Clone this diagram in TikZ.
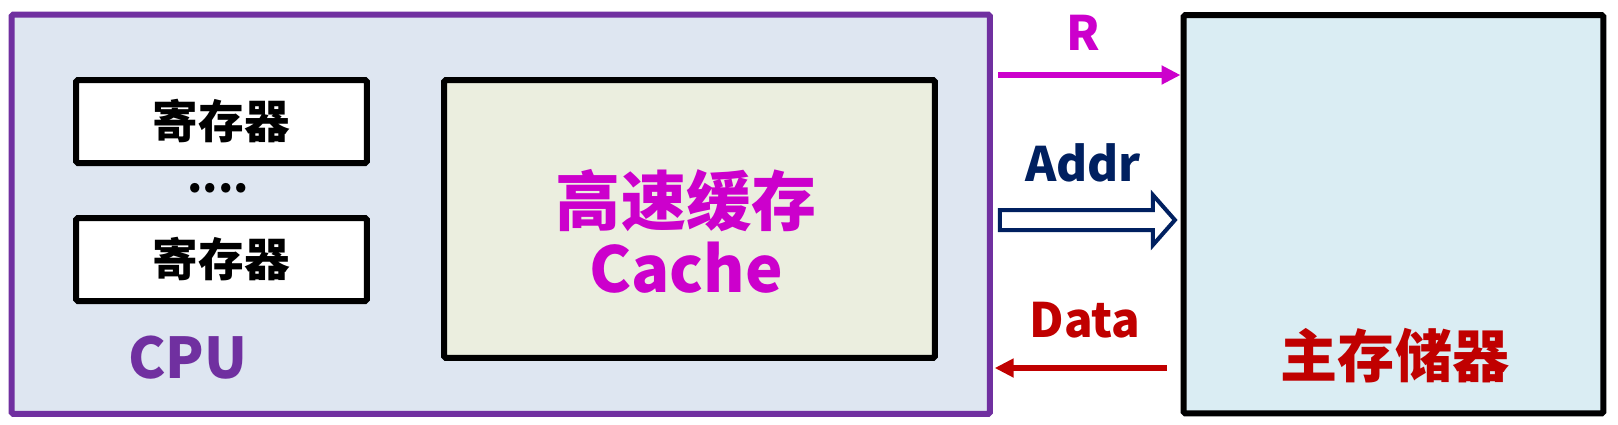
\documentclass[tikz,border=0pt]{standalone}
\usepackage{fontspec}
\setmainfont{Noto Sans CJK SC}
\usetikzlibrary{arrows.meta}
\definecolor{cpuline}{HTML}{7030A0}
\definecolor{cpufill}{HTML}{DEE6F1}
\definecolor{cachefill}{HTML}{EBEEDF}
\definecolor{memfill}{HTML}{DAEDF3}
\definecolor{magen}{HTML}{CC00CC}
\definecolor{navy}{HTML}{002060}
\definecolor{darkred}{HTML}{C00000}

\begin{document}
\begin{tikzpicture}[x=0.02cm, y=-0.02cm,
  box/.style={draw, line width=0.12cm, rounded corners=1pt, inner sep=0pt},
  reg/.style={box, fill=white, minimum width=5.82cm, minimum height=1.66cm,
    font=\fontsize{26}{26}\selectfont\bfseries},
  label/.style={font=\fontsize{27}{27}\selectfont\bfseries},
  bus/.style={line width=0.11cm, -{Triangle[length=0.38cm, width=0.36cm]}}]
  \useasboundingbox (0,0) rectangle (1618,424);

  \node[box, draw=cpuline, fill=cpufill, minimum width=19.57cm, minimum height=7.99cm] (cpu) at (500.75,214.25) {};
  \node[box, fill=memfill, minimum width=8.4cm, minimum height=7.97cm] (mem) at (1393.5,214.25) {};

  \node[reg] (reg1) at (221.5,121.5) {寄存器};
  \node[reg] (reg2) at (221.5,259.5) {寄存器};
  \node[font=\fontsize{25}{25}\selectfont\bfseries] (dots) at (218,188) {....};
  \node[font=\fontsize{32}{32}\selectfont\bfseries, text=cpuline] (cpulab) at (188,358) {CPU};

  \node[box, fill=cachefill, minimum width=9.82cm, minimum height=5.56cm] (cache) at (689.5,219) {};
  \node[font=\fontsize{37}{37}\selectfont\bfseries, text=magen] (cachecn) at (686,201) {高速缓存};
  \node[font=\fontsize{36}{36}\selectfont\bfseries, text=magen] (cacheen) at (686,268) {Cache};

  \node[font=\fontsize{32.5}{32.5}\selectfont\bfseries, text=darkred] (memlab) at (1395,356) {主存储器};

  % bus signals
  \node[label, text=magen] (rlab) at (1083,33) {R};
  \node[label, text=navy] (addrlab) at (1083,163) {Addr};
  \node[label, text=darkred] (datalab) at (1085,320) {Data};

  \draw[bus, magen, shorten <=3] (cpu.east |- 0,75) -- (mem.west |- 0,75);
  \coordinate (addr) at ([xshift=0.14cm]cpu.east |- 0,220);
  \draw[navy, fill=white, line width=0.08cm] (addr) ++(0,-10) -- ++(153,0) -- ++(0,-15)
    -- ++(22,25) -- ++(-22,25) -- ++(0,-15) -- ++(-153,0) -- cycle;
  \draw[bus, darkred, shorten <=8, shorten >=1] (mem.west |- 0,368) -- (cpu.east |- 0,368);
\end{tikzpicture}
\end{document}
